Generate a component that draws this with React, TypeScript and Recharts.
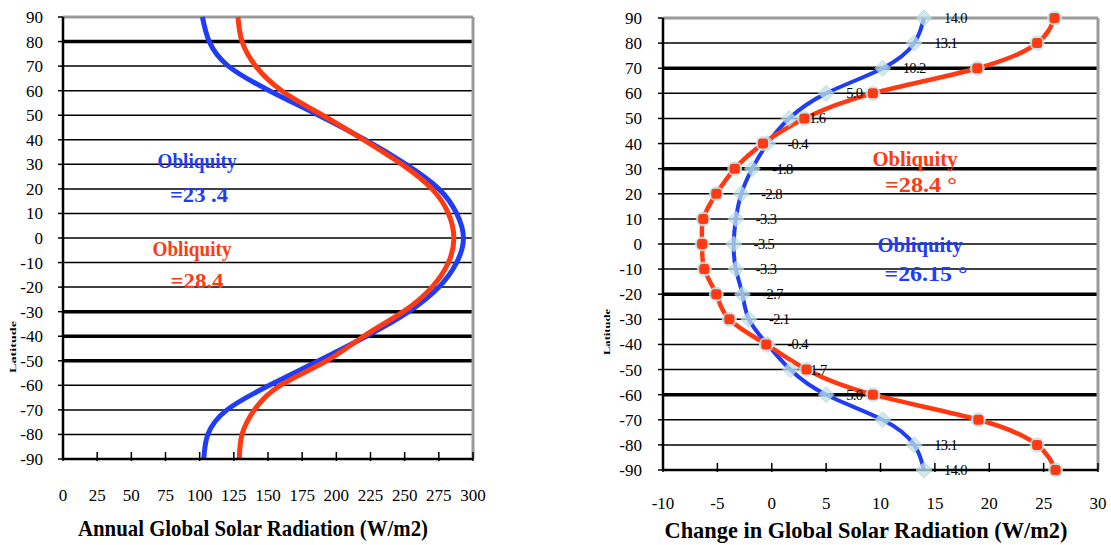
import { LineChart, Line, XAxis, YAxis, CartesianGrid, ReferenceLine, LabelList } from 'recharts'

const latitudes = [90, 80, 70, 60, 50, 40, 30, 20, 10, 0, -10, -20, -30, -40, -50, -60, -70, -80, -90]

// left: annual global solar radiation (W/m2)
const annual234 = [102, 107, 121, 151, 187, 221, 251, 275, 288, 293, 288, 275, 253, 222, 187, 151, 120, 106, 103]
const annual284 = [128, 131, 141, 160, 190, 220, 248, 270, 282, 286, 282, 270, 249, 220, 193, 159, 140, 131, 129]

// right: change in global solar radiation (W/m2)
const change2615 = [14.0, 13.1, 10.2, 5.0, 1.6, -0.4, -1.8, -2.8, -3.3, -3.5, -3.3, -2.7, -2.1, -0.4, 1.7, 5.0, 10.2, 13.1, 14.0]
const change284 = [26.0, 24.4, 18.9, 9.3, 3.0, -0.8, -3.4, -5.1, -6.3, -6.4, -6.2, -5.1, -3.9, -0.5, 3.2, 9.3, 19.0, 24.4, 26.1]
const unlabeledLats = [-70]

const latTicks = [90, 80, 70, 60, 50, 40, 30, 20, 10, 0, -10, -20, -30, -40, -50, -60, -70, -80, -90]
const leftXTicks = [0, 25, 50, 75, 100, 125, 150, 175, 200, 225, 250, 275, 300]
const rightXTicks = [-10, -5, 0, 5, 10, 15, 20, 25, 30]
const leftBoldLats = [80, -30, -40, -50]
const rightBoldLats = [70, 30, -20, -60]

const leftData = latitudes.map((lat, i) => ({ lat, blue: annual234[i], red: annual284[i] }))
const rightData = latitudes.map((lat, i) => ({ lat, blue: change2615[i], red: change284[i] }))

const SERIF = "'Liberation Serif', 'Times New Roman', serif"
const BLUE = '#1f3cf6'
const RED = '#ff3a12'
const MARK = '#bfe2e7'

const BottomTick = (props: any) => {
  const { x, y, payload, labelDy } = props
  return (
    <g>
      <line x1={x} x2={x} y1={y - 7} y2={y + 2} stroke="#000" strokeWidth={1.5} />
      <text x={x} y={y + labelDy} textAnchor="middle" fontFamily={SERIF} fontSize={17} fill="#000">
        {payload.value}
      </text>
    </g>
  )
}

const BlueDiamond = (props: any) => {
  const { cx, cy } = props
  if (cx == null || cy == null) return <g />
  const s = 8
  return (
    <polygon
      points={`${cx},${cy - s} ${cx + s},${cy} ${cx},${cy + s} ${cx - s},${cy}`}
      fill={MARK}
      stroke="#a8d3da"
      strokeWidth={1}
      opacity={0.75}
    />
  )
}

const RedDot = (props: any) => {
  const { cx, cy } = props
  if (cx == null || cy == null) return <g />
  return (
    <g>
      <circle cx={cx} cy={cy} r={7.5} fill={MARK} opacity={0.85} />
      <rect x={cx - 5} y={cy - 5} width={10} height={10} rx={3} fill={RED} />
    </g>
  )
}

const BlueLabel = (props: any) => {
  const { x, y, value, index } = props
  if (unlabeledLats.includes(latitudes[index])) return null
  return (
    <text x={x + 20} y={y + 5} fontFamily={SERIF} fontSize={14.5} fill="#000" letterSpacing={-0.6}>
      {Number(value).toFixed(1)}
    </text>
  )
}

const yTick = { fill: '#000', fontSize: 17, fontFamily: SERIF }

export default function App() {
  return (
    <div style={{ position: 'absolute', left: 0, top: 0, width: 1111, height: 545, background: '#fff' }}>
      {/* Left: annual radiation */}
      <div style={{ position: 'absolute', left: 0, top: 0 }}>
        <LineChart
          layout="vertical"
          width={500}
          height={545}
          data={leftData}
          margin={{ top: 17, right: 27, bottom: 26, left: 0 }}
        >
          <CartesianGrid horizontal vertical={false} stroke="#000" strokeWidth={1.5} />
          <XAxis
            type="number"
            domain={[0, 300]}
            ticks={leftXTicks}
            height={60}
            tickSize={0}
            tickMargin={0}
            tickLine={false}
            axisLine={{ stroke: '#000', strokeWidth: 2.5 }}
            tick={<BottomTick labelDy={42} />}
            interval={0}
          />
          <YAxis
            type="number"
            dataKey="lat"
            domain={[-90, 90]}
            ticks={latTicks}
            reversed
            width={63}
            tickSize={5}
            tickMargin={15}
            interval={0}
            tick={yTick}
            tickLine={{ stroke: '#000', strokeWidth: 1.5 }}
            axisLine={{ stroke: '#000', strokeWidth: 2.5 }}
          />
          {leftBoldLats.map((v) => (
            <ReferenceLine key={v} y={v} stroke="#000" strokeWidth={3.5} />
          ))}
          <ReferenceLine y={90} stroke="#9a9a9a" strokeWidth={3} />
          <ReferenceLine x={300} stroke="#9a9a9a" strokeWidth={3} />
          <Line dataKey="blue" type="natural" stroke={BLUE} strokeWidth={5} dot={false} isAnimationActive={false} />
          <Line dataKey="red" type="natural" stroke={RED} strokeWidth={5} dot={false} isAnimationActive={false} />
        </LineChart>
      </div>

      {/* Right: change in radiation */}
      <div style={{ position: 'absolute', left: 580, top: 0 }}>
        <LineChart
          layout="vertical"
          width={531}
          height={545}
          data={rightData}
          margin={{ top: 18, right: 13, bottom: 15, left: 0 }}
        >
          <CartesianGrid horizontal vertical={false} stroke="#000" strokeWidth={1.5} />
          <XAxis
            type="number"
            domain={[-10, 30]}
            ticks={rightXTicks}
            height={60}
            tickSize={0}
            tickMargin={0}
            tickLine={false}
            axisLine={{ stroke: '#000', strokeWidth: 2.5 }}
            tick={<BottomTick labelDy={39} />}
            interval={0}
          />
          <YAxis
            type="number"
            dataKey="lat"
            domain={[-90, 90]}
            ticks={latTicks}
            reversed
            width={83}
            tickSize={5}
            tickMargin={16}
            interval={0}
            tick={yTick}
            tickLine={{ stroke: '#000', strokeWidth: 1.5 }}
            axisLine={{ stroke: '#000', strokeWidth: 2.5 }}
          />
          {rightBoldLats.map((v) => (
            <ReferenceLine key={v} y={v} stroke="#000" strokeWidth={3.5} />
          ))}
          <ReferenceLine y={90} stroke="#9a9a9a" strokeWidth={3} />
          <ReferenceLine x={30} stroke="#9a9a9a" strokeWidth={3} />
          <Line
            dataKey="blue"
            type="natural"
            stroke={BLUE}
            strokeWidth={4}
            dot={(p: any) => <BlueDiamond key={`b${p.index}`} {...p} />}
            isAnimationActive={false}
          >
            <LabelList dataKey="blue" content={<BlueLabel />} />
          </Line>
          <Line
            dataKey="red"
            type="natural"
            stroke={RED}
            strokeWidth={4.5}
            dot={(p: any) => <RedDot key={`r${p.index}`} {...p} />}
            isAnimationActive={false}
          />
        </LineChart>
      </div>

      {/* annotations and axis titles */}
      <svg
        width={1111}
        height={545}
        style={{ position: 'absolute', left: 0, top: 0, pointerEvents: 'none' }}
        fontFamily={SERIF}
        fontWeight="bold"
      >
        <text x={197} y={168} textAnchor="middle" fontSize={22} fill={BLUE} textLength={79} lengthAdjust="spacingAndGlyphs">Obliquity</text>
        <text x={199} y={202} textAnchor="middle" fontSize={22} fill={BLUE} textLength={58} lengthAdjust="spacingAndGlyphs">=23 .4</text>
        <text x={192} y={256} textAnchor="middle" fontSize={22} fill={RED} textLength={79} lengthAdjust="spacingAndGlyphs">Obliquity</text>
        <text x={197} y={288} textAnchor="middle" fontSize={22} fill={RED} textLength={53} lengthAdjust="spacingAndGlyphs">=28.4</text>

        <text x={915} y={166} textAnchor="middle" fontSize={22} fill={RED} textLength={85} lengthAdjust="spacingAndGlyphs">Obliquity</text>
        <text x={921} y={192} textAnchor="middle" fontSize={22} fill={RED} textLength={72} lengthAdjust="spacingAndGlyphs">=28.4 °</text>
        <text x={920} y={252} textAnchor="middle" fontSize={22} fill={BLUE} textLength={85} lengthAdjust="spacingAndGlyphs">Obliquity</text>
        <text x={926} y={281} textAnchor="middle" fontSize={22} fill={BLUE} textLength={83} lengthAdjust="spacingAndGlyphs">=26.15 °</text>

        <text x={253} y={536} textAnchor="middle" fontSize={24} fill="#000" textLength={350} lengthAdjust="spacingAndGlyphs">Annual Global Solar Radiation (W/m2)</text>
        <text x={866} y={538} textAnchor="middle" fontSize={24} fill="#000" textLength={403} lengthAdjust="spacingAndGlyphs">Change  in Global Solar Radiation (W/m2)</text>

        <text x={16} y={347} textAnchor="middle" fontSize={9} fill="#000" textLength={52} lengthAdjust="spacingAndGlyphs" transform="rotate(-90 16 347)">Latitude</text>
        <text x={610} y={332} textAnchor="middle" fontSize={9} fill="#000" textLength={46} lengthAdjust="spacingAndGlyphs" transform="rotate(-90 610 332)">Latitude</text>
      </svg>
    </div>
  )
}
